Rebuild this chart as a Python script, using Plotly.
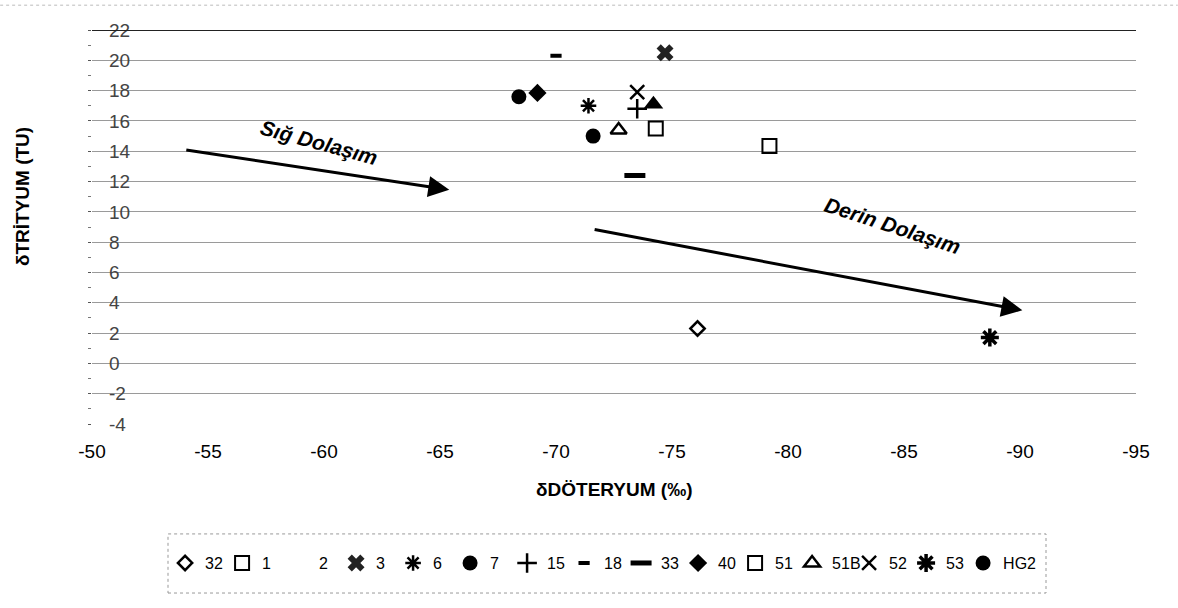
import plotly.graph_objects as go

# ---------------- data ----------------
series = ["32", "1", "2", "3", "6", "7", "15", "18", "33", "40", "51", "51B", "52", "53", "HG2"]
deuterium = [-76.1, -74.3, -74.2, -74.7, -71.4, -68.4, -73.5, -70.0, -73.4, -69.2, -79.2, -72.7, -73.5, -88.7, -71.6]
tritium = [2.3, 15.5, 17.1, 20.5, 17.0, 17.6, 16.8, 20.3, 12.4, 17.85, 14.35, 15.4, 17.9, 1.7, 15.0]

x_ticks = [-50, -55, -60, -65, -70, -75, -80, -85, -90, -95]
y_ticks = [-4, -2, 0, 2, 4, 6, 8, 10, 12, 14, 16, 18, 20, 22]

# arrows: (start x, start y, end x, end y)
shallow_arrow = (-54.0, 14.1, -65.4, 11.45)
deep_arrow = (-71.6, 8.85, -90.1, 3.5)
shallow_label = ("Sığ Dolaşım", -59.8, 14.6, 15)
deep_label = ("Derin Dolaşım", -84.5, 9.1, 18)

# ---------------- styles ----------------
K = "black"
styles = {
    "32":  dict(symbol="diamond-open", size=11, color=K, line=dict(width=2.5, color=K)),
    "1":   dict(symbol="square-open", size=14, color=K, line=dict(width=2, color=K)),
    "2":   dict(symbol="triangle-up", size=17, color=K),
    "3":   dict(symbol="x", size=15, color="#222"),
    "6":   dict(symbol="asterisk-open", size=13, color=K, line=dict(width=2.5, color=K)),
    "7":   dict(symbol="circle", size=15, color=K),
    "15":  dict(symbol="cross-thin-open", size=14, color=K, line=dict(width=2.5, color=K)),
    "18":  dict(symbol="line-ew-open", size=8, color=K, line=dict(width=4, color=K)),
    "33":  dict(symbol="line-ew-open", size=15, color=K, line=dict(width=5, color=K)),
    "40":  dict(symbol="diamond", size=14, color=K),
    "51":  dict(symbol="square-open", size=14, color=K, line=dict(width=2, color=K)),
    "51B": dict(symbol="triangle-up-open", size=14, color=K, line=dict(width=2.5, color=K)),
    "52":  dict(symbol="x-thin-open", size=14, color=K, line=dict(width=2.5, color=K)),
    "53":  dict(symbol="asterisk-open", size=15, color=K, line=dict(width=3.5, color=K)),
    "HG2": dict(symbol="circle", size=15, color=K),
}

FONT = "Liberation Sans, Arial, sans-serif"

fig = go.Figure()
for name, xv, yv in zip(series, deuterium, tritium):
    st = styles[name]
    if name == "2":
        # this series' marker did not print in the legend of the original
        fig.add_trace(go.Scatter(x=[xv], y=[yv], mode="markers", name=name,
                                 marker=st, legendgroup=name, showlegend=False))
        fig.add_trace(go.Scatter(x=[None], y=[None], mode="markers", name=name,
                                 marker=dict(symbol="triangle-up", size=10, color="rgba(0,0,0,0)"),
                                 legendgroup=name))
    else:
        fig.add_trace(go.Scatter(x=[xv], y=[yv], mode="markers", name=name,
                                 marker=st, legendgroup=name))
# empty trailing legend slot so the last label is not clipped
fig.add_trace(go.Scatter(x=[None], y=[None], mode="markers", name=" ",
                         marker=dict(size=1, color="rgba(0,0,0,0)"), hoverinfo="skip"))

annotations = []
for (x0, y0, x1, y1) in (shallow_arrow, deep_arrow):
    annotations.append(dict(x=x1, y=y1, ax=x0, ay=y0, xref="x", yref="y", axref="x", ayref="y",
                            text="", showarrow=True, arrowhead=2, arrowsize=1.4, arrowwidth=3,
                            arrowcolor="black", standoff=0))
for (txt, xv, yv, ang) in (shallow_label, deep_label):
    annotations.append(dict(x=xv, y=yv, xref="x", yref="y", text=txt, showarrow=False,
                            textangle=ang,
                            font=dict(family=FONT, size=21, color="black", weight="bold", style="italic")))

annotations.append(dict(x=0.5, y=-0.1675, xref="paper", yref="paper", text="δDÖTERYUM (‰)",
                        showarrow=False, yanchor="middle",
                        font=dict(family=FONT, size=19, color="black", weight="bold")))
annotations.append(dict(x=-0.067, y=0.576, xref="paper", yref="paper", text="δTRİTYUM (TU)",
                        showarrow=False, textangle=-90, xanchor="center", yanchor="middle",
                        font=dict(family=FONT, size=19, color="black", weight="bold")))

shapes = [
    dict(type="line", xref="paper", yref="y", x0=0, x1=1, y0=22, y1=22,
         line=dict(color="#222", width=2)),
    dict(type="rect", xref="paper", yref="paper", x0=0.0728, x1=0.9138, y0=-0.429, y1=-0.279,
         line=dict(color="#999", width=1, dash="dot")),
    dict(type="line", xref="paper", yref="paper", x0=-0.088, x1=1.04, y0=1.063, y1=1.063,
         line=dict(color="#bbb", width=1, dash="dot")),
]

fig.update_layout(
    width=1178, height=608,
    margin=dict(l=92, r=42, t=30, b=184),
    paper_bgcolor="white", plot_bgcolor="white",
    font=dict(family=FONT, color="black"),
    showlegend=True,
    legend=dict(orientation="h", x=0.07, xanchor="left", y=-0.353, yanchor="middle",
                font=dict(family=FONT, size=16, color="black"),
                itemwidth=30, entrywidth=12, bgcolor="rgba(0,0,0,0)", borderwidth=0),
    annotations=annotations,
    shapes=shapes,
    xaxis=dict(range=[-50, -95], tickvals=x_ticks, ticktext=[str(v) for v in x_ticks],
               showgrid=False, zeroline=False,
               showline=False, ticks="", tickfont=dict(size=19), ticklabelstandoff=14),
    yaxis=dict(range=[-4, 22], tickvals=y_ticks, ticktext=[str(v) for v in y_ticks],
               showgrid=True, gridcolor="#9a9a9a",
               gridwidth=1, zeroline=False, showline=False, ticks="outside", ticklen=3,
               tickcolor="#555", ticklabelposition="inside", ticklabeloverflow="allow",
               tickfont=dict(size=19), ticklabelstandoff=14,
               minor=dict(dtick=1, ticks="outside", ticklen=3, tickcolor="#777", showgrid=False)),
)

fig.write_html("out.html")
